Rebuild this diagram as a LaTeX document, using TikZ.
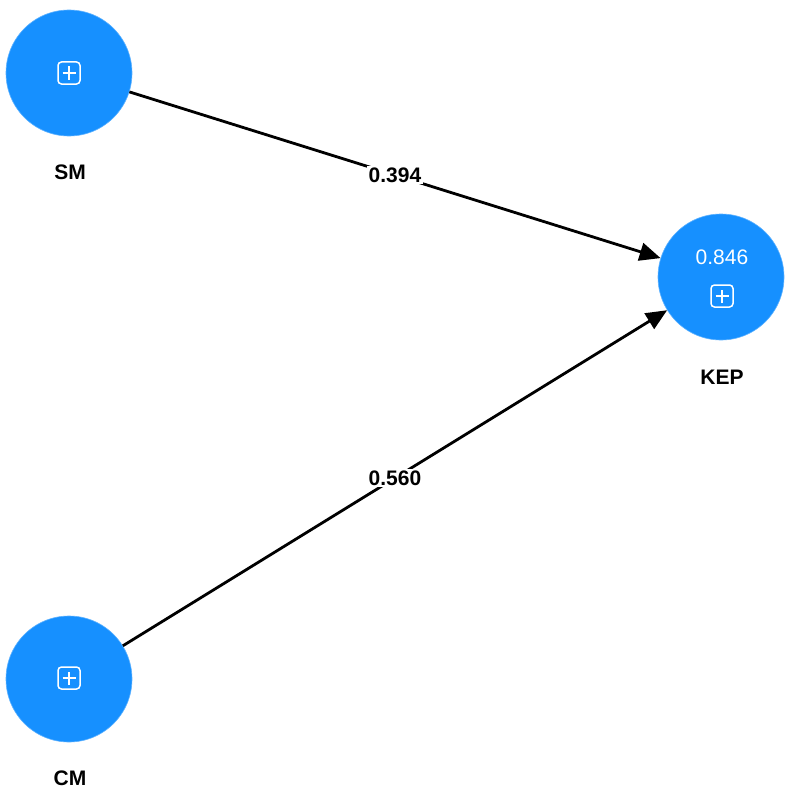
\documentclass[tikz,border=0pt]{standalone}
\usepackage{fontspec}
\setmainfont{Liberation Sans}
\usetikzlibrary{arrows.meta}
\definecolor{nodeblue}{RGB}{22,144,255}
\begin{document}
\begin{tikzpicture}[x=1pt,y=-1pt,
  latent/.style={circle,fill=nodeblue,draw=nodeblue!70!white,line width=0.6pt,minimum size=126pt,inner sep=0pt},
  iconbox/.style={draw=white,line width=1.5pt,rounded corners=3.5pt,minimum size=22pt,inner sep=0pt,
    path picture={\draw[white,line width=1.5pt]
      ([xshift=-6.5pt]path picture bounding box.center) -- ([xshift=6.5pt]path picture bounding box.center)
      ([yshift=-6.5pt]path picture bounding box.center) -- ([yshift=6.5pt]path picture bounding box.center);}},
  lbl/.style={font=\fontsize{21}{25}\selectfont\bfseries,text=black},
  r2/.style={font=\fontsize{21}{25}\selectfont,text=white},
  path/.style={draw=black,line width=2.8pt,-{Triangle[length=21pt,width=18pt]}},
  coef/.style={fill=white,inner sep=2pt,font=\fontsize{21}{25}\selectfont\bfseries,text=black}]
\useasboundingbox (0,0) rectangle (787,792);
\node[latent] (sm) at (69,73) {};
\node[latent] (kep) at (721,277) {};
\node[latent] (cm) at (69,679) {};
\node[iconbox] (smicon) at (69,73) {};
\node[iconbox] (kepicon) at (722,296) {};
\node[iconbox] (cmicon) at (69,678) {};
\node[r2] (kepr2) at (722,257) {0.846};
\node[lbl] (smlbl) at (70,172) {SM};
\node[lbl] (keplbl) at (722,377) {KEP};
\node[lbl] (cmlbl) at (70,778) {CM};
\draw[path] (sm) -- (kep) node[coef,pos=0.5] (c1) {0.394};
\draw[path] (cm) -- (kep) node[coef,pos=0.5] (c2) {0.560};
\end{tikzpicture}
\end{document}
